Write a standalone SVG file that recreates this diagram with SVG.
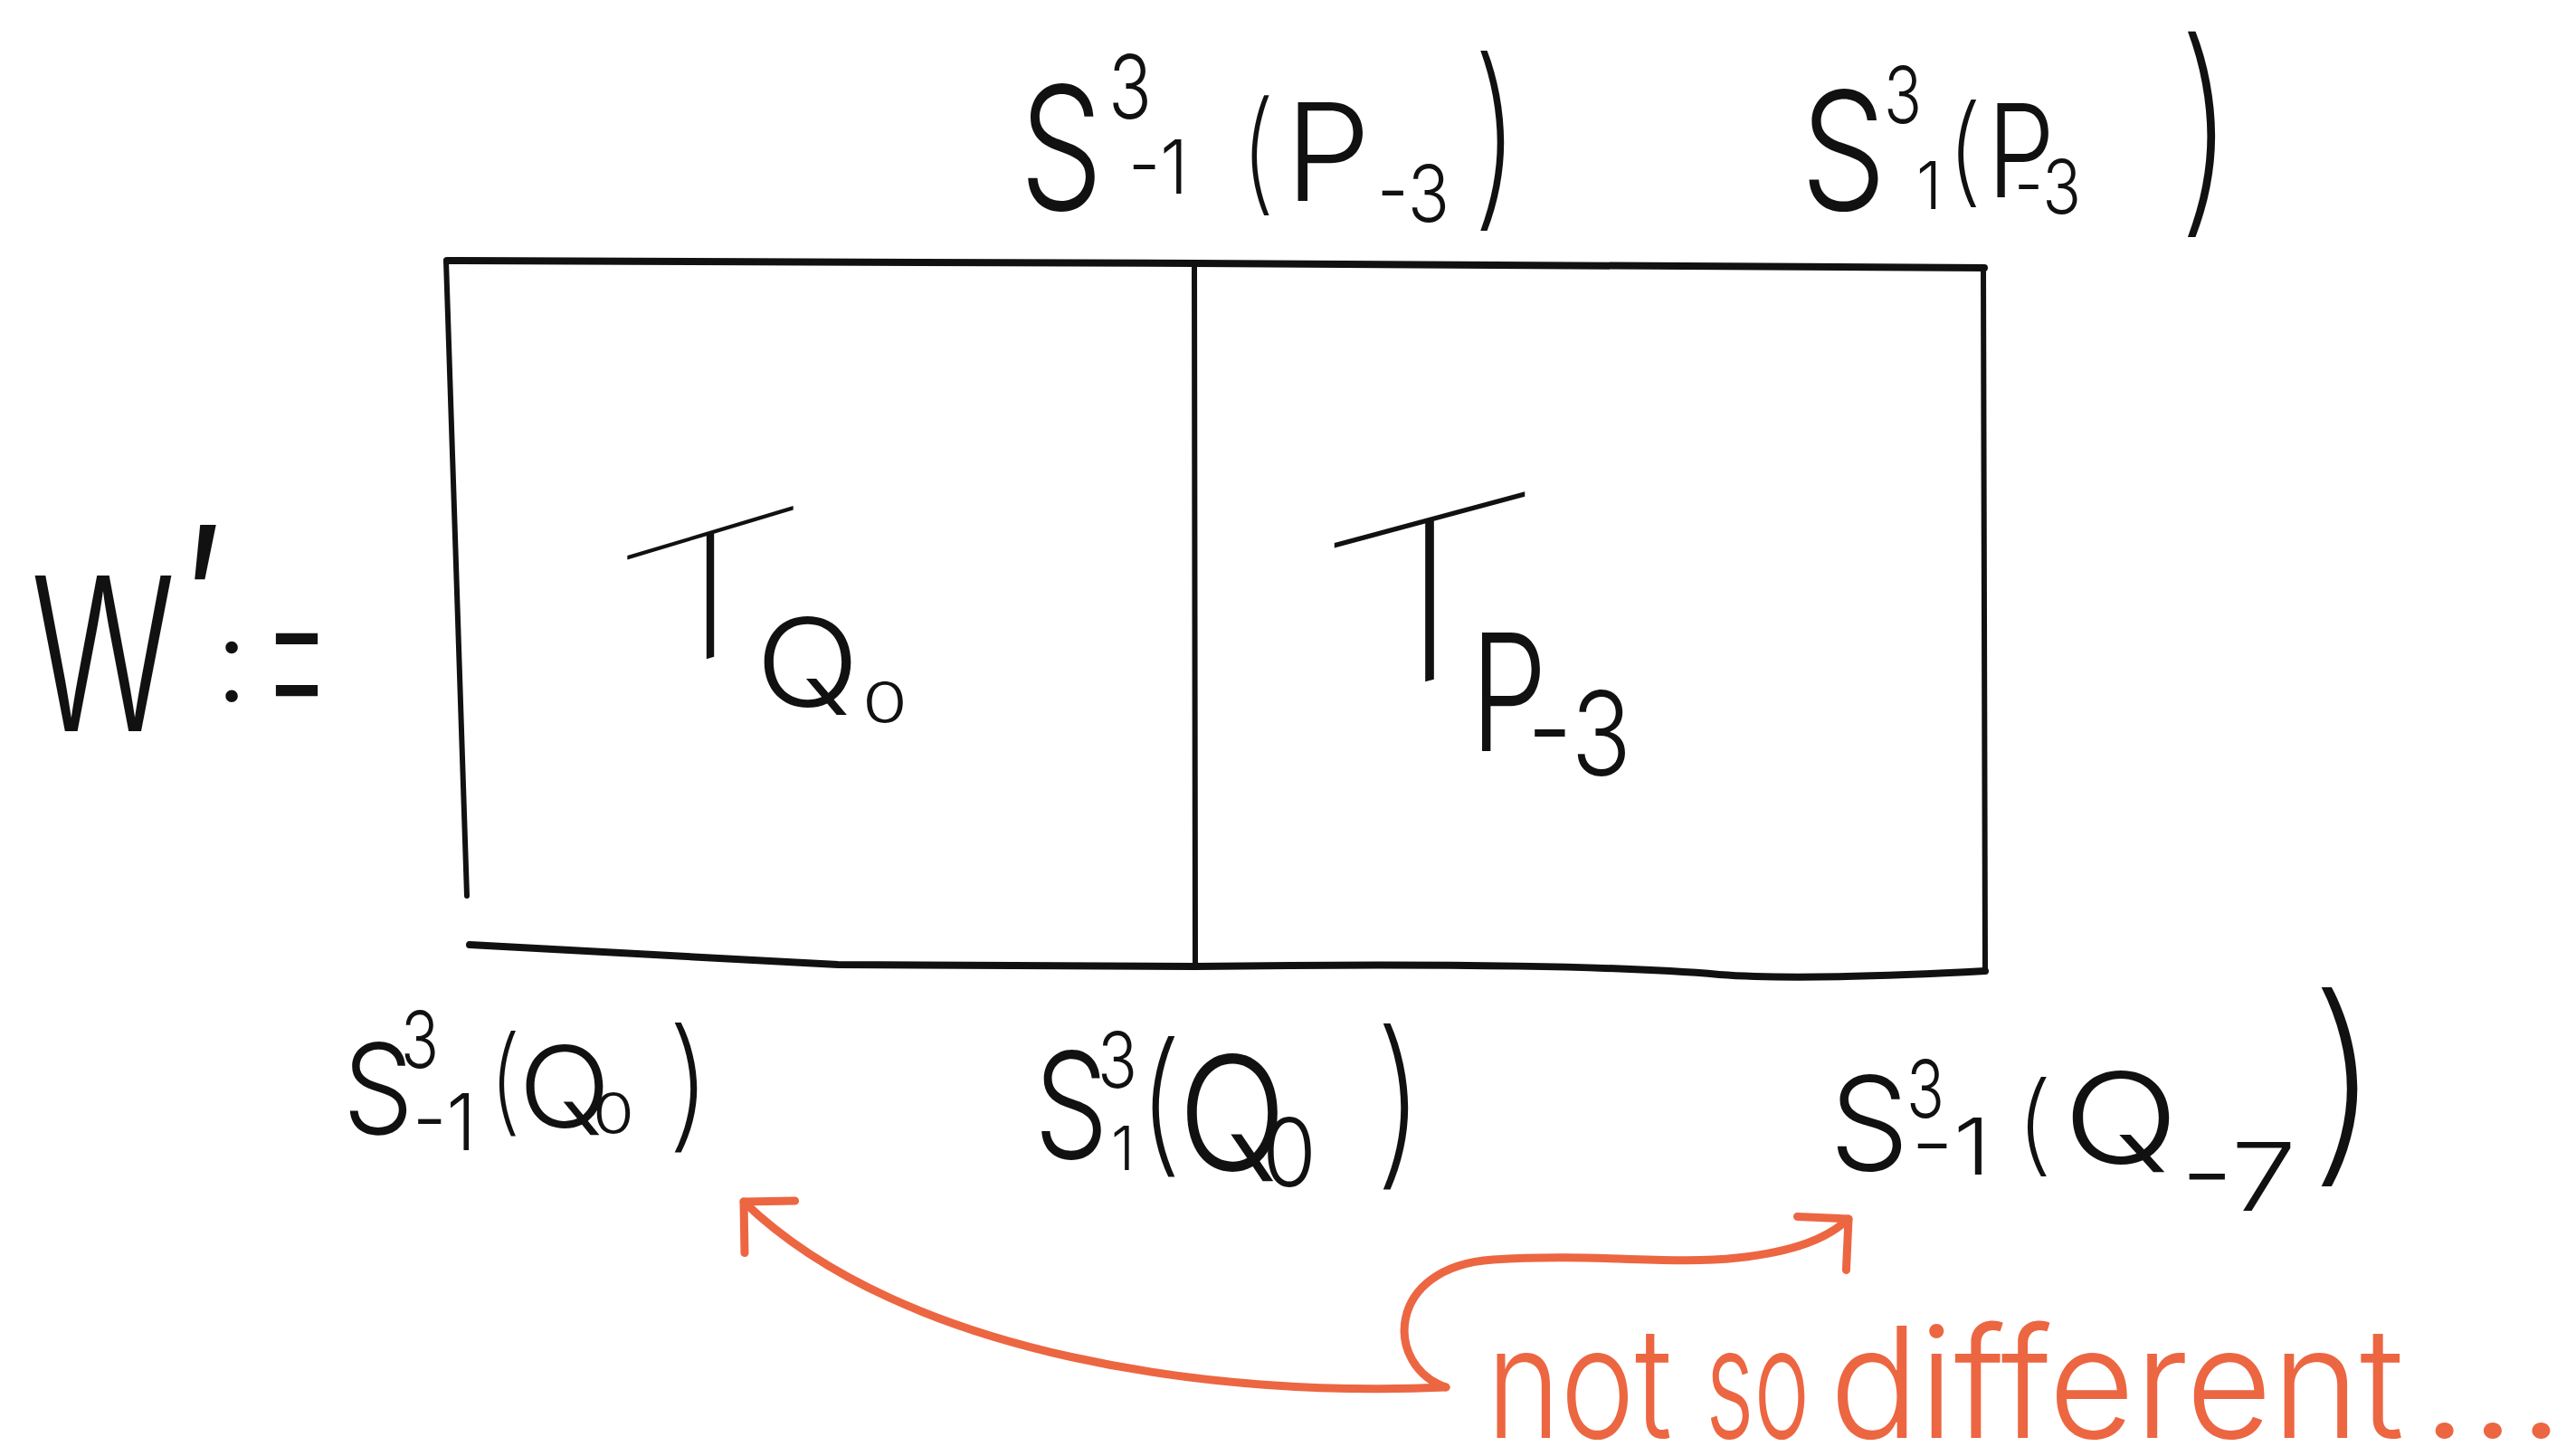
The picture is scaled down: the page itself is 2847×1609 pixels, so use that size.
<svg xmlns="http://www.w3.org/2000/svg" width="2847" height="1609" viewBox="0 0 2847 1609">
<defs>
<style>
.m{font-family:Inter,"DejaVu Sans",sans-serif;font-weight:300;fill:#111}
.t{font-family:Inter,"DejaVu Sans",sans-serif;font-weight:135;fill:#111}
.p{font-weight:200}
.e{font-weight:240}
.o{font-family:Inter,"DejaVu Sans",sans-serif;font-weight:300;fill:#EC6642}
.ln{fill:none;stroke:#111;stroke-linecap:round;stroke-linejoin:round}
</style>
<marker id="head" viewBox="-50 -50 60 100" refX="0" refY="0" markerWidth="60" markerHeight="100" markerUnits="userSpaceOnUse" orient="auto" overflow="visible">
<path d="M-40 -40 L0 0 L-40 40" fill="none" stroke="#EC6642" stroke-width="9" stroke-linecap="round" stroke-linejoin="round"/>
</marker>
</defs>
<rect width="2847" height="1609" fill="#fff"/>

<g id="frame">
<path class="ln" stroke-width="8" d="M494 288 L1320 291 L2193 296"/>
<path class="ln" stroke-width="6" d="M493 288 L516 990"/>
<path class="ln" stroke-width="6" d="M1320 291 L1321 1068"/>
<path class="ln" stroke-width="6" d="M2192 296 L2194 1073"/>
<path class="ln" stroke-width="8" d="M519 1044 L926 1066 L1320 1068 C1600 1064 1800 1068 1900 1077 C1980 1083 2100 1078 2194 1073"/>
</g>

<g id="w-def">
<text class="m"><tspan x="34" y="808" font-size="236" textLength="160" lengthAdjust="spacingAndGlyphs">W</tspan><tspan x="203" y="752" font-size="236">′</tspan><tspan x="238" y="775" font-size="128">:</tspan><tspan class="e" x="288" y="817" font-size="290" textLength="80" lengthAdjust="spacingAndGlyphs">=</tspan></text>
</g>

<g id="cell-left">
<text class="t" transform="translate(785,727) skewY(-16.7)" x="-115" y="0" font-size="193" textLength="230" lengthAdjust="spacingAndGlyphs">T</text>
<text class="m"><tspan x="835" y="781" font-size="135" textLength="115" lengthAdjust="spacingAndGlyphs">Q</tspan><tspan x="953" y="799" font-size="63" textLength="50" lengthAdjust="spacingAndGlyphs">0</tspan></text>
</g>

<g id="cell-right">
<text class="t" transform="translate(1580,752) skewY(-15.1)" x="-132" y="0" font-size="248" textLength="264" lengthAdjust="spacingAndGlyphs">T</text>
<text class="m"><tspan x="1625" y="830" font-size="180" textLength="85" lengthAdjust="spacingAndGlyphs">P</tspan><tspan x="1688" y="857" font-size="129" textLength="115" lengthAdjust="spacingAndGlyphs">-3</tspan></text>
</g>

<g id="label-top-mid">
<text class="m"><tspan x="1127" y="232" font-size="190" textLength="92" lengthAdjust="spacingAndGlyphs">S</tspan><tspan x="1225" y="131" font-size="97" textLength="48" lengthAdjust="spacingAndGlyphs">3</tspan><tspan x="1247" y="214" font-size="82" textLength="66" lengthAdjust="spacingAndGlyphs">-1</tspan><tspan class="p" x="1370" y="218" font-size="146" textLength="40" lengthAdjust="spacingAndGlyphs">(</tspan><tspan x="1420" y="222" font-size="150" textLength="95" lengthAdjust="spacingAndGlyphs">P</tspan><tspan x="1522" y="245" font-size="87" textLength="80" lengthAdjust="spacingAndGlyphs">-3</tspan><tspan class="p" x="1626" y="225" font-size="219" textLength="55" lengthAdjust="spacingAndGlyphs">)</tspan></text>
</g>

<g id="label-top-right">
<text class="m"><tspan x="1990" y="232" font-size="182" textLength="95" lengthAdjust="spacingAndGlyphs">S</tspan><tspan x="2082" y="136" font-size="87" textLength="42" lengthAdjust="spacingAndGlyphs">3</tspan><tspan x="2118" y="231" font-size="73" textLength="28" lengthAdjust="spacingAndGlyphs">1</tspan><tspan class="p" x="2150" y="211" font-size="131" textLength="42" lengthAdjust="spacingAndGlyphs">(</tspan><tspan x="2196" y="218" font-size="143" textLength="75" lengthAdjust="spacingAndGlyphs">P</tspan><tspan x="2226" y="236" font-size="82" textLength="74" lengthAdjust="spacingAndGlyphs">-3</tspan><tspan class="p" x="2406" y="228" font-size="250" textLength="64" lengthAdjust="spacingAndGlyphs">)</tspan></text>
</g>

<g id="label-bottom-left">
<text class="m"><tspan x="379" y="1253" font-size="138" textLength="78" lengthAdjust="spacingAndGlyphs">S</tspan><tspan x="443" y="1180" font-size="87" textLength="42" lengthAdjust="spacingAndGlyphs">3</tspan><tspan x="456" y="1271" font-size="87" textLength="70" lengthAdjust="spacingAndGlyphs">-1</tspan><tspan class="p" x="539" y="1238" font-size="128" textLength="38" lengthAdjust="spacingAndGlyphs">(</tspan><tspan x="573" y="1246" font-size="125" textLength="102" lengthAdjust="spacingAndGlyphs">Q</tspan><tspan x="655" y="1253" font-size="63" textLength="46" lengthAdjust="spacingAndGlyphs">0</tspan><tspan class="p" x="736" y="1252" font-size="158" textLength="52" lengthAdjust="spacingAndGlyphs">)</tspan></text>
</g>

<g id="label-bottom-mid">
<text class="m"><tspan x="1143" y="1280" font-size="162" textLength="82" lengthAdjust="spacingAndGlyphs">S</tspan><tspan x="1213" y="1202" font-size="85" textLength="44" lengthAdjust="spacingAndGlyphs">3</tspan><tspan x="1228" y="1293" font-size="67" textLength="26" lengthAdjust="spacingAndGlyphs">1</tspan><tspan class="p" x="1256" y="1277" font-size="171" textLength="52" lengthAdjust="spacingAndGlyphs">(</tspan><tspan x="1302" y="1293" font-size="175" textLength="120" lengthAdjust="spacingAndGlyphs">Q</tspan><tspan x="1395" y="1311" font-size="104" textLength="60" lengthAdjust="spacingAndGlyphs">0</tspan><tspan class="p" x="1518" y="1287" font-size="202" textLength="58" lengthAdjust="spacingAndGlyphs">)</tspan></text>
</g>

<g id="label-bottom-right">
<text class="m"><tspan x="2022" y="1293" font-size="143" textLength="88" lengthAdjust="spacingAndGlyphs">S</tspan><tspan x="2107" y="1235" font-size="88" textLength="42" lengthAdjust="spacingAndGlyphs">3</tspan><tspan x="2112" y="1298" font-size="87" textLength="88" lengthAdjust="spacingAndGlyphs">-1</tspan><tspan class="p" x="2226" y="1283" font-size="121" textLength="44" lengthAdjust="spacingAndGlyphs">(</tspan><tspan x="2280" y="1286" font-size="140" textLength="128" lengthAdjust="spacingAndGlyphs">Q</tspan><tspan x="2410" y="1338" font-size="104" textLength="128" lengthAdjust="spacingAndGlyphs">-7</tspan><tspan class="p" x="2550" y="1278" font-size="242" textLength="84" lengthAdjust="spacingAndGlyphs">)</tspan></text>
</g>

<g id="note">
<text class="o" font-size="170"><tspan x="1643" y="1589" textLength="205" lengthAdjust="spacingAndGlyphs">not</tspan> <tspan x="1885" y="1589" textLength="115" lengthAdjust="spacingAndGlyphs">so</tspan> <tspan x="2022" y="1589" textLength="635" lengthAdjust="spacingAndGlyphs">different</tspan><tspan x="2675" y="1589" textLength="160" lengthAdjust="spacingAndGlyphs">...</tspan></text>
</g>

<g id="connectors" fill="none" stroke="#EC6642" stroke-width="9" stroke-linecap="round" stroke-linejoin="round">
<path id="arrow-to-left" marker-end="url(#head)" d="M1598 1533 C1350 1545 1000 1500 822 1328"/>
<path id="arrow-to-right" marker-end="url(#head)" d="M1598 1533 C1530 1510 1530 1400 1650 1392 C1760 1385 1850 1398 1920 1390 C1985 1383 2020 1368 2043 1347"/>
</g>
</svg>
